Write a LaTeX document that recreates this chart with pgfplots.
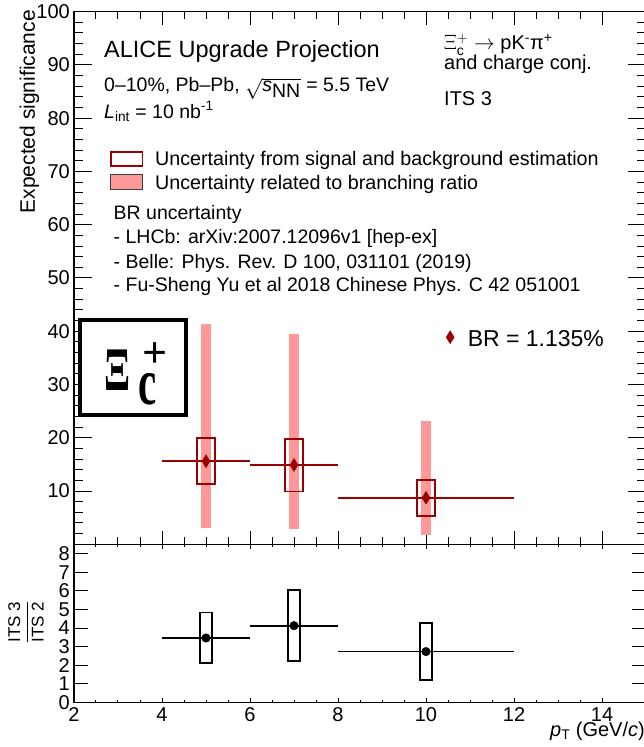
\documentclass[border=0pt]{standalone}
\usepackage{pgfplots}
\pgfplotsset{compat=1.18}
\usepackage{pgfplotstable}
\usepackage{fontspec}
\setmainfont{Liberation Sans}
\newfontfamily\serifbf{Liberation Serif}
\definecolor{dred}{RGB}{153,0,0}
\definecolor{pinkbr}{RGB}{255,153,153}
\newcommand{\fs}[1]{\fontsize{#1}{#1}\selectfont}

\pgfplotstableread{
x   y     ex  sysm sysp brm   brp
5   15.6  1   4.3  4.4  12.5  25.7
7   14.9  1   5.0  4.9  12.0  24.5
10  8.74  2   3.44 3.36 6.99  14.36
}\topdata
\pgfplotstableread{
x   y     ex
5   3.47  1
7   4.13  1
10  2.74  2
}\botdata

\pgfplotsset{
  panel/.style={
    scale only axis, width=572pt,
    xmin=2, xmax=15,
    axis line style={line width=1.1pt, black},
    tick style={line width=1pt, black},
    /pgf/number format/assume math mode=true,
    ticklabel style={font=\fs{20}, inner sep=0pt},
    yticklabel style={xshift=-4pt},
    xticklabel style={yshift=-5pt},
  },
  xpanel/.style={panel, xtick={2,4,...,14}, minor x tick num=3, ytick=\empty},
  ypanel/.style={panel, xtick=\empty},
}

\begin{document}
\begin{tikzpicture}
% ---------------- top panel: x ticks + data ----------------
\begin{axis}[xpanel,
  at={(0pt,0pt)}, anchor=south west, height=532.6pt,
  ymin=0, ymax=100,
  xticklabels={},
  major tick length=13pt, minor tick length=7pt,
  legend style={at={(0.6503,0.4061)}, anchor=north west, draw=none, fill=none,
    font=\fs{23}, inner sep=0pt, column sep=13.6pt,
    nodes={inner sep=0pt, text height=18pt, text depth=0pt}},
  legend cell align=left,
]
% branching-ratio uncertainty bars
\addplot[forget plot, only marks, mark=none,
  error bars/.cd, y dir=both, y explicit, error mark=none,
  error bar style={line width=9.3pt, color=pinkbr}]
  table[x=x, y=y, y error minus=brm, y error plus=brp]{\topdata};
% bin widths
\addplot[forget plot, only marks, mark=none,
  error bars/.cd, x dir=both, x explicit, error mark=none,
  error bar style={line width=1.5pt, color=dred}]
  table[x=x, y=y, x error=ex]{\topdata};
% signal/background uncertainty boxes
\addplot[forget plot, dred, line width=1.6pt, mark=none] coordinates {(4.795,11.3) (5.205,11.3) (5.205,20.0) (4.795,20.0) (4.795,11.3)} -- cycle;
\addplot[forget plot, dred, line width=1.6pt, mark=none] coordinates {(6.795,9.9) (7.205,9.9) (7.205,19.8) (6.795,19.8) (6.795,9.9)} -- cycle;
\addplot[forget plot, dred, line width=1.6pt, mark=none] coordinates {(9.795,5.3) (10.205,5.3) (10.205,12.1) (9.795,12.1) (9.795,5.3)} -- cycle;
% points
\addplot[only marks, color=dred, mark=diamond*, mark size=6.5pt,
  mark options={xscale=0.82, fill=dred, draw=dred},
  legend image code/.code={\draw[color=dred, fill=dred, mark=diamond*, mark size=6.5pt, mark options={xscale=0.82}] plot coordinates {(4pt,0pt)};}]
  table[x=x, y=y]{\topdata};
\addlegendentry{BR = 1.135\%}
\end{axis}

% top panel: y ticks
\begin{axis}[ypanel,
  at={(0pt,0pt)}, anchor=south west, height=532.6pt,
  ymin=0, ymax=100,
  ytick={0,10,...,100}, minor y tick num=4,
  yticklabels={,10,20,30,40,50,60,70,80,90,100},
  major tick length=18pt, minor tick length=9pt,
  legend style={at={(0.06294,0.7390)}, anchor=north west, draw=none, fill=none,
    font=\fs{19.7}, inner sep=0pt, column sep=12pt, row sep=7.3pt,
    nodes={inner sep=0pt, text height=14pt, text depth=0pt}},
  legend cell align=left,
]
\addlegendimage{legend image code/.code={\draw[draw=dred, line width=1.6pt, fill=white] (0.8pt,-7.2pt) rectangle (32.2pt,7.2pt);}}
\addlegendentry{Uncertainty from signal and background estimation}
\addlegendimage{legend image code/.code={\draw[draw=black!75, line width=1pt, fill=pinkbr] (0.5pt,-7.5pt) rectangle (32.5pt,7.5pt);}}
\addlegendentry{Uncertainty related to branching ratio}
\end{axis}

% ---------------- bottom panel: x ticks + data ----------------
\begin{axis}[xpanel,
  at={(0pt,0pt)}, anchor=north west, height=158.3pt,
  ymin=0, ymax=8.5,
  major tick length=5pt, minor tick length=3pt,
]
\addplot[forget plot, only marks, mark=none,
  error bars/.cd, x dir=both, x explicit, error mark=none,
  error bar style={line width=1.7pt, color=black}]
  table[x=x, y=y, x error=ex]{\botdata};
\addplot[forget plot, black, line width=1.7pt, mark=none] coordinates {(4.86,2.13) (5.14,2.13) (5.14,4.83) (4.86,4.83) (4.86,2.13)} -- cycle;
\addplot[forget plot, black, line width=1.7pt, mark=none] coordinates {(6.86,2.23) (7.14,2.23) (7.14,6.03) (6.86,6.03) (6.86,2.23)} -- cycle;
\addplot[forget plot, black, line width=1.7pt, mark=none] coordinates {(9.86,1.20) (10.14,1.20) (10.14,4.28) (9.86,4.28) (9.86,1.20)} -- cycle;
\addplot[only marks, black, mark=*, mark size=4.3pt] table[x=x, y=y]{\botdata};
\end{axis}

% bottom panel: y ticks
\begin{axis}[ypanel,
  at={(0pt,0pt)}, anchor=north west, height=158.3pt,
  ymin=0, ymax=8.5,
  ytick={0,1,...,8},
  major tick length=14pt,
]
\end{axis}

% ---------------- texts (image pixel coordinates) ----------------
\begin{scope}[x=1pt, y=-1pt, shift={(-74,-544.3)}]
\node[anchor=base west, inner sep=0, font=\fs{23.5}] at (104,57.3) {ALICE Upgrade Projection};
\node[anchor=base west, inner sep=0, font=\fs{19.5}] at (104,91.7) {0--10\%, Pb--Pb, $\sqrt{\textit{s}_{\textrm{NN}}}$ = 5.5 TeV};
\node[anchor=base west, inner sep=0, font=\fs{19.5}] at (104,118.3) {\textit{L}\textsubscript{int} = 10 nb\textsuperscript{-1}};
\node[anchor=base west, inner sep=0, font=\fs{20}] at (444,50) {$\Xi_{\mathrm{c}}^{+}\rightarrow$ pK\textsuperscript{-}π\textsuperscript{+}};
\node[anchor=base west, inner sep=0, font=\fs{20}] at (444,70) {and charge conj.};
\node[anchor=base west, inner sep=0, font=\fs{20}] at (444,106) {ITS 3};
\node[anchor=base west, inner sep=0, font=\fs{19.5}] at (113.5,220) {BR uncertainty};
\node[anchor=base west, inner sep=0, font=\fs{19.5}] at (113.5,244) {- LHCb: arXiv:2007.12096v1 [hep-ex]};
\node[anchor=base west, inner sep=0, font=\fs{19.5}] at (113.5,269) {- Belle: Phys. Rev. D 100, 031101 (2019)};
\node[anchor=base west, inner sep=0, font=\fs{19.5}] at (113.5,292) {- Fu-Sheng Yu et al 2018 Chinese Phys. C 42 051001};
% particle box
\draw[line width=4pt, fill=white] (80.3,320.3) rectangle (186.3,415.3);
\node[anchor=base, inner sep=0] at (118,391) {\scalebox{0.62}[1]{\fs{62}\serifbf\bfseries Ξ}};
\node[anchor=base, inner sep=0] at (147.5,405) {\scalebox{0.62}[1]{\fs{66}\serifbf\bfseries c}};
\node[inner sep=0] at (155,355) {\fs{44}\serifbf\bfseries +};
% axis titles
\node[rotate=90, anchor=base east, inner sep=0, font=\fs{21}] at (35,10) {Expected significance};
\node[rotate=90, inner sep=0, font=\fs{17}] at (26,622) {$\displaystyle\frac{\mbox{ITS 3}}{\mbox{ITS 2}}$};
\node[anchor=base east, inner sep=0, font=\fs{20}] at (645,736) {\textit{p}\textsubscript{T} (GeV/\textit{c})};
\end{scope}
\pgfresetboundingbox
\useasboundingbox (-74pt,-202.7pt) rectangle (569pt,544.3pt);
\end{tikzpicture}
\end{document}
